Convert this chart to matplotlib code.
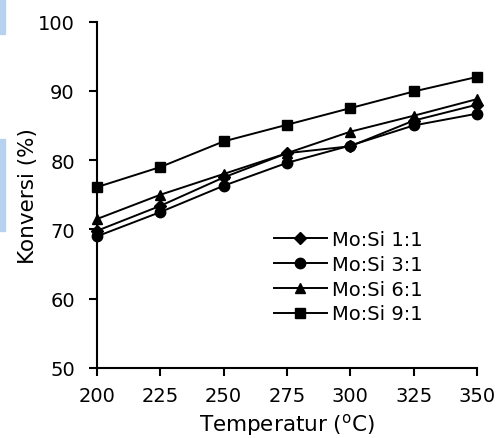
import matplotlib
matplotlib.use("Agg")
import matplotlib.pyplot as plt
from matplotlib.patches import Rectangle

temperature = [200, 225, 250, 275, 300, 325, 350]
mo_si_1_1 = [69.8, 73.4, 77.5, 81.0, 82.0, 85.7, 88.0]
mo_si_3_1 = [69.0, 72.5, 76.3, 79.6, 82.1, 85.0, 86.7]
mo_si_6_1 = [71.5, 75.0, 78.0, 81.0, 84.1, 86.4, 88.8]
mo_si_9_1 = [76.1, 79.0, 82.7, 85.1, 87.5, 89.9, 92.0]
series_labels = ["Mo:Si 1:1", "Mo:Si 3:1", "Mo:Si 6:1", "Mo:Si 9:1"]
x_ticks = [200, 225, 250, 275, 300, 325, 350]
y_ticks = [50, 60, 70, 80, 90, 100]

plt.rcParams['font.family'] = ['DejaVu Sans']
fig = plt.figure(figsize=(4.99, 4.39), dpi=100)
ax = fig.add_axes([97/499, 1-369/439, 380/499, 346.5/439])

series = [mo_si_1_1, mo_si_3_1, mo_si_6_1, mo_si_9_1]
markers = ['D', 'o', '^', 's']
msizes = [6.5, 7.5, 7.5, 7.5]
for vals, lab, m, ms in zip(series, series_labels, markers, msizes):
    ax.plot(temperature, vals, color='black', lw=1.4, marker=m, ms=ms,
            label=lab, clip_on=False, zorder=3)

ax.set_xlim(200, 350)
ax.set_ylim(50, 100)
ax.set_xticks(x_ticks)
ax.set_yticks(y_ticks)
for s in ['top', 'right']:
    ax.spines[s].set_visible(False)
for s in ['left', 'bottom']:
    ax.spines[s].set_linewidth(1.5)
ax.tick_params(axis='y', length=6, width=1.5, pad=10, labelsize=14)
ax.tick_params(axis='x', length=6, width=1.5, pad=7, labelsize=14)
ax.set_xlabel("Temperatur ($^{\\mathrm{o}}$C)", fontsize=15.5, labelpad=4.5)
ax.set_ylabel("Konversi (%)", fontsize=15.5, labelpad=0)

ax.legend(loc='center left', bbox_to_anchor=(0.466, 0.2635), frameon=False,
          fontsize=14, handlelength=2.7, handletextpad=0.26, borderpad=0,
          borderaxespad=0, labelspacing=0.3)

fig.patches.append(Rectangle((0, 1-35/439), 5/499, 35/439, transform=fig.transFigure,
                             color='#b7d2ee', zorder=0))
fig.patches.append(Rectangle((0, 1-232/439), 5/499, 92/439, transform=fig.transFigure,
                             color='#b7d2ee', zorder=0))

fig.savefig("out.png", dpi=100)
